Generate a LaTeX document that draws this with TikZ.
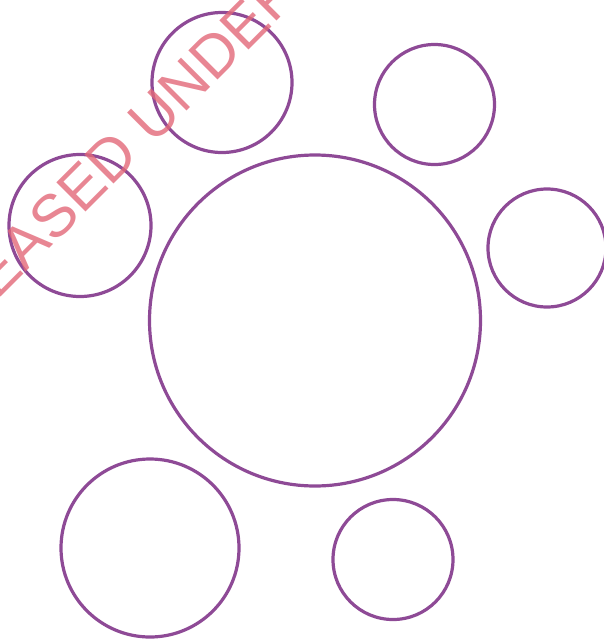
\documentclass[tikz,border=0pt]{standalone}
\usepackage{fontspec}
\setmainfont{Liberation Sans}
\definecolor{ringpurple}{RGB}{142,74,150}
\definecolor{stamp}{RGB}{226,104,120}

\begin{document}
\begin{tikzpicture}[x=1pt,y=-1pt]
\useasboundingbox (0,0) rectangle (604,641);
\draw[ringpurple, line width=3.2pt] (315,320.5) circle (165.5);
\draw[ringpurple, line width=3.2pt] (222,82.5) circle (70);
\draw[ringpurple, line width=3.2pt] (80,225.5) circle (71);
\draw[ringpurple, line width=3.2pt] (434.5,104.5) circle (60);
\draw[ringpurple, line width=3.2pt] (547,248) circle (59);
\draw[ringpurple, line width=3.2pt] (150,548) circle (89);
\draw[ringpurple, line width=3.2pt] (393,559.5) circle (60);
\clip (0,0) rectangle (604,641);
\node[stamp, opacity=0.8, inner sep=0pt, rotate=45, font=\fontsize{60}{60}\selectfont] (mark) at (95,174) {RELEASED UNDER};
\end{tikzpicture}
\end{document}
